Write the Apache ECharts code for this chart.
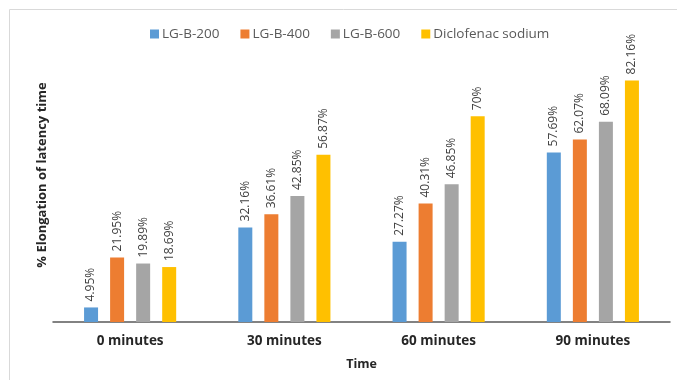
<!DOCTYPE html>
<html>
<head>
<meta charset="utf-8">
<script src="https://cdn.jsdelivr.net/npm/echarts@6/dist/echarts.min.js"></script>
<style>
  html, body { margin: 0; padding: 0; background: #ffffff; }
  #chart { width: 677px; height: 380px; }
</style>
</head>
<body>
<div id="chart"></div>
<script>
// Elongation of latency time per dose, sampled at each time point
const categories = ['0 minutes', '30 minutes', '60 minutes', '90 minutes'];
const lgB200 = [4.95, 32.16, 27.27, 57.69];
const lgB400 = [21.95, 36.61, 40.31, 62.07];
const lgB600 = [19.89, 42.85, 46.85, 68.09];
const diclofenac = [18.69, 56.87, 70, 82.16];

const seriesNames = ['LG-B-200', 'LG-B-400', 'LG-B-600', 'Diclofenac sodium'];
const seriesData = [lgB200, lgB400, lgB600, diclofenac];
const colors = ['#5B9BD5', '#ED7D31', '#A5A5A5', '#FFC000'];

const FONT = '"Open Sans", "Liberation Sans", sans-serif';

const chart = echarts.init(document.getElementById('chart'));

chart.setOption({
  animation: false,
  textStyle: { fontFamily: FONT },
  color: colors,
  graphic: [{
    type: 'rect',
    shape: { x: 9.5, y: 9.5, width: 700, height: 400 },
    style: { fill: 'none', stroke: '#d9d9d9', lineWidth: 1 },
    silent: true
  }],
  legend: {
    top: 22,
    left: 145,
    itemWidth: 9,
    itemHeight: 9,
    itemGap: 21,
    icon: 'rect',
    textStyle: { fontSize: 13.5, color: '#595959', fontFamily: FONT, padding: [0, 0, 0, -2] },
    data: seriesNames
  },
  grid: { left: 53, right: 7, top: 28, bottom: 58 },
  xAxis: {
    type: 'category',
    data: categories,
    name: 'Time',
    nameLocation: 'middle',
    nameGap: 36,
    nameTextStyle: { fontSize: 12.5, fontWeight: 'bold', color: '#262626', fontFamily: FONT },
    axisLine: { lineStyle: { color: '#595959', width: 1.5 } },
    axisTick: { show: false },
    axisLabel: { fontSize: 13.5, fontWeight: 'bold', color: '#262626', margin: 12, fontFamily: FONT }
  },
  yAxis: {
    type: 'value',
    min: 0,
    max: 100,
    name: '% Elongation of latency time',
    nameLocation: 'middle',
    nameGap: 4,
    nameRotate: 90,
    nameTextStyle: { fontSize: 13, fontWeight: 'bold', color: '#262626', fontFamily: FONT },
    axisLine: { show: false },
    axisTick: { show: false },
    axisLabel: { show: false },
    splitLine: { show: false }
  },
  series: seriesData.map((d, i) => ({
    name: seriesNames[i],
    type: 'bar',
    data: d,
    barWidth: 14,
    barGap: '86%',
    itemStyle: { color: colors[i] },
    label: {
      show: true,
      position: 'top',
      rotate: 90,
      align: 'left',
      verticalAlign: 'middle',
      distance: 6,
      fontSize: 12,
      color: '#404040',
      fontFamily: FONT,
      formatter: p => p.value + '%'
    }
  }))
});
</script>
</body>
</html>
